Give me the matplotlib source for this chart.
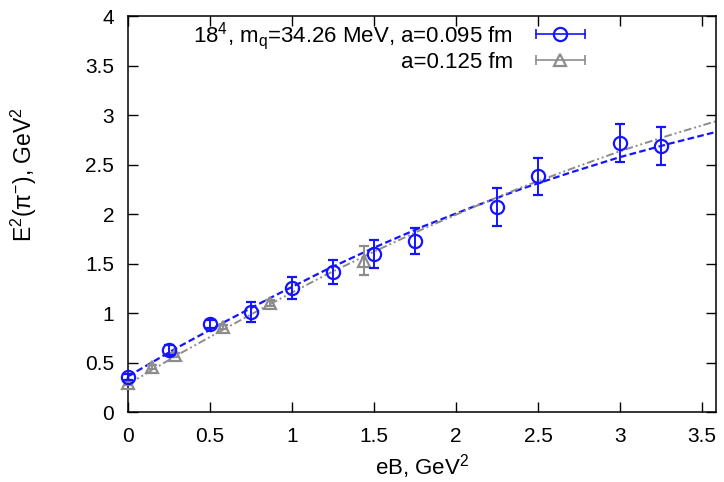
import numpy as np
import matplotlib
matplotlib.use("Agg")
import matplotlib.pyplot as plt
from matplotlib.lines import Line2D
from matplotlib.legend_handler import HandlerLine2D, HandlerTuple
from matplotlib.ticker import FuncFormatter

plt.rcParams['font.family'] = ['Liberation Sans', 'DejaVu Sans']
plt.rcParams['mathtext.fontset'] = 'custom'
plt.rcParams['mathtext.rm'] = 'Liberation Sans'
plt.rcParams['mathtext.it'] = 'Liberation Sans:italic'

# a = 0.095 fm lattice, 18^4
eb_fine = [0.0, 0.25, 0.5, 0.75, 1.0, 1.25, 1.5, 1.75, 2.25, 2.5, 3.0, 3.25]
e2_fine = [0.355, 0.625, 0.89, 1.01, 1.25, 1.415, 1.595, 1.73, 2.07, 2.38, 2.72, 2.685]
err_fine = [0.03, 0.05, 0.04, 0.105, 0.11, 0.12, 0.145, 0.13, 0.19, 0.19, 0.19, 0.19]

# a = 0.125 fm lattice
eb_coarse = [0.0, 0.144, 0.288, 0.577, 0.865, 1.44]
e2_coarse = [0.295, 0.455, 0.58, 0.86, 1.10, 1.53]
err_coarse = [0.02, 0.02, 0.02, 0.02, 0.03, 0.145]

# fit curves
fit_x = [0.0, 0.3, 0.6, 0.9, 1.2, 1.5, 1.8, 2.1, 2.4, 2.7, 3.0, 3.3, 3.6]
fit_fine = [0.36, 0.65, 0.92, 1.18, 1.43, 1.66, 1.875, 2.07, 2.255, 2.42, 2.575, 2.71, 2.835]
fit_coarse = [0.28, 0.575, 0.85, 1.12, 1.38, 1.62, 1.85, 2.065, 2.27, 2.455, 2.635, 2.795, 2.945]

blue = '#1414ff'
grey = '#8c8c8c'

fig = plt.figure(figsize=(7.24, 4.82), dpi=100)
ax = fig.add_axes([0.1768, 0.1452, 0.8122, 0.8216])

ax.plot(fit_x, fit_fine, color=blue, lw=1.6, ls=(0, (3, 1.5)))
ax.plot(fit_x, fit_coarse, color=grey, lw=1.4, ls=(0, (4, 1.5, 1, 1.5, 1, 1.5)))

ax.errorbar(eb_fine, e2_fine, yerr=err_fine, fmt='o', ms=9.5, mfc='none', mec=blue,
            mew=1.6, ecolor=blue, elinewidth=1.4, capsize=3.5, capthick=1.4,
            clip_on=False, zorder=4)
ax.errorbar(eb_coarse, e2_coarse, yerr=err_coarse, fmt='^', ms=9, mfc='none', mec=grey,
            mew=1.6, ecolor=grey, elinewidth=1.4, capsize=3.5, capthick=1.4,
            clip_on=False, zorder=3)

ax.set_xlim(0, 3.585)
ax.set_ylim(0, 4)
ax.set_xticks([0, 0.5, 1, 1.5, 2, 2.5, 3, 3.5])
ax.set_yticks([0, 0.5, 1, 1.5, 2, 2.5, 3, 3.5, 4])
fmt = FuncFormatter(lambda v, p: '%g' % v)
ax.xaxis.set_major_formatter(fmt)
ax.yaxis.set_major_formatter(fmt)
ax.tick_params(direction='in', top=True, right=True, length=7, width=1,
               labelsize=15)
ax.tick_params(axis='x', pad=11)
ax.tick_params(axis='y', pad=10)
for s in ax.spines.values():
    s.set_linewidth(1.1)

ax.set_xlabel('eB, GeV$^2$', fontsize=16, labelpad=4)
ax.set_ylabel('E$^2$(π$^{-}$), GeV$^2$', fontsize=16.5)
ax.yaxis.set_label_coords(-0.152, 0.60)

# legend samples with horizontal error bars
caps_f = Line2D([], [], color=blue, lw=1.2, marker='|', ms=7, mew=1.2)
mark_f = Line2D([], [], color=blue, lw=0, marker='o', ms=9.5, mfc='none', mew=1.6)
caps_c = Line2D([], [], color=grey, lw=1.2, marker='|', ms=7, mew=1.2)
mark_c = Line2D([], [], color=grey, lw=0, marker='^', ms=9, mfc='none', mew=1.6)
hmap = {caps_f: HandlerLine2D(numpoints=2), caps_c: HandlerLine2D(numpoints=2),
        mark_f: HandlerLine2D(numpoints=1), mark_c: HandlerLine2D(numpoints=1)}
ax.legend([(caps_f, mark_f), (caps_c, mark_c)],
          ['18$^4$, m$_\\mathrm{q}$=34.26 MeV, a=0.095 fm', 'a=0.125 fm'],
          handler_map={**hmap, tuple: HandlerTuple(ndivide=1)},
          loc='upper right', bbox_to_anchor=(0.818, 1.036), markerfirst=False,
          alignment='right', frameon=False, fontsize=16, handlelength=2.8,
          handletextpad=0.7, labelspacing=0.0, borderpad=0.3)

fig.savefig('out.png', dpi=100)
